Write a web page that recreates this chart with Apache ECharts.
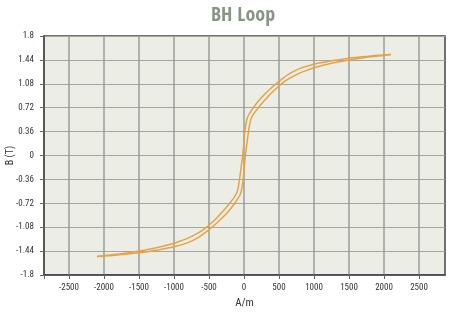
<!DOCTYPE html>
<html>
<head>
<meta charset="utf-8">
<script src="https://cdn.jsdelivr.net/npm/echarts@6/dist/echarts.min.js"></script>
<style>
html,body{margin:0;padding:0;background:#fff;}
#chart{width:450px;height:314px;}
</style>
</head>
<body>
<div id="chart"></div>
<script>
// Descending branch (from +Hmax to -Hmax), H in A/m, B in T
var descH = [2100,2000,1750,1500,1250,1000,800,650,550,457,380,310,240,180,133,115,90,65,47,33,22,12,2,-8,-20,-35,-50,-64,-76,-89,-104,-125,-150,-180,-210,-260,-320,-390,-460,-530,-600,-680,-785,-900,-1000,-1250,-1500,-1750,-2000,-2100];
var descB = [1.52,1.515,1.493,1.466,1.426,1.376,1.312,1.232,1.159,1.08,1.009,0.939,0.861,0.786,0.72,0.69,0.65,0.61,0.565,0.51,0.44,0.36,0.25,0.12,0,-0.13,-0.25,-0.36,-0.44,-0.51,-0.56,-0.605,-0.645,-0.685,-0.725,-0.79,-0.86,-0.94,-1.01,-1.075,-1.13,-1.18,-1.237,-1.285,-1.323,-1.39,-1.44,-1.48,-1.508,-1.52];
// Ascending branch (from -Hmax to +Hmax)
var ascH = [-2100,-2000,-1750,-1500,-1250,-1000,-800,-650,-550,-457,-380,-310,-240,-180,-133,-115,-90,-65,-47,-33,-22,-12,-2,8,20,35,50,64,76,89,104,125,150,180,210,260,320,390,460,530,600,680,785,900,1000,1250,1500,1750,2000,2100];
var ascB = [-1.52,-1.515,-1.493,-1.466,-1.426,-1.376,-1.312,-1.232,-1.159,-1.08,-1.009,-0.939,-0.861,-0.786,-0.72,-0.69,-0.65,-0.61,-0.565,-0.51,-0.44,-0.36,-0.25,-0.12,0,0.13,0.25,0.36,0.44,0.51,0.56,0.605,0.645,0.685,0.725,0.79,0.86,0.94,1.01,1.075,1.13,1.18,1.237,1.285,1.323,1.39,1.44,1.48,1.508,1.52];
var xTicks = [-2500,-2000,-1500,-1000,-500,0,500,1000,1500,2000,2500];

function pairs(xs, ys){ return xs.map(function(x,i){ return [x, ys[i]]; }); }

var titleFont = "'Open Sans Condensed', 'Roboto Condensed', sans-serif";
var font = "'Roboto Condensed', 'DejaVu Sans Condensed', sans-serif";
var chart = echarts.init(document.getElementById('chart'));
chart.setOption({
  animation: false,
  backgroundColor: '#ffffff',
  title: {
    text: 'BH Loop', left: 238, textAlign: 'center', top: 1,
    textStyle: {fontFamily: titleFont, fontSize: 20, fontWeight: 'bold', color: '#8a9485'}
  },
  grid: {left: 44, right: 5, top: 36, bottom: 39, outerBoundsMode: 'none', containLabel: false,
    show: true, backgroundColor: '#eceee6', borderColor: '#444', borderWidth: 1.5},
  xAxis: {
    type: 'value', min: -2857, max: 2871,
    name: 'A/m', nameLocation: 'middle', nameGap: 23, nameMoveOverlap: false,
    nameTextStyle: {fontFamily: font, fontSize: 11, color: '#333'},
    axisLine: {show: true, onZero: false, lineStyle: {color: '#444', width: 1.5}},
    axisTick: {show: true, length: 4, customValues: [-2857].concat(xTicks), lineStyle: {color: '#666'}},
    axisLabel: {customValues: xTicks, margin: 8, fontFamily: font, fontSize: 9, color: '#333',
      formatter: function(v){ return String(v); }},
    splitLine: {show: true, customValues: xTicks, lineStyle: {color: '#9a9e98', width: 1.5}}
  },
  yAxis: {
    type: 'value', min: -1.8, max: 1.8, interval: 0.36,
    name: 'B (T)', nameLocation: 'middle', nameGap: 29, nameMoveOverlap: false,
    nameTextStyle: {fontFamily: font, fontSize: 10, color: '#333'},
    axisLine: {show: true, onZero: false, lineStyle: {color: '#444', width: 1.5}},
    axisTick: {show: true, length: 4, lineStyle: {color: '#666'}},
    axisLabel: {margin: 10, fontFamily: font, fontSize: 9, color: '#333',
      formatter: function(v){ return String(Math.round(v*100)/100); }},
    splitLine: {show: true, lineStyle: {color: '#a2a6a0', width: 1.2}}
  },
  series: [
    {type: 'line', data: pairs(descH, descB), smooth: 0.3, showSymbol: false, lineStyle: {color: '#e6a248', width: 1.5}},
    {type: 'line', data: pairs(ascH, ascB), smooth: 0.3, showSymbol: false, lineStyle: {color: '#e6a248', width: 1.5}}
  ]
});
</script>
</body>
</html>
